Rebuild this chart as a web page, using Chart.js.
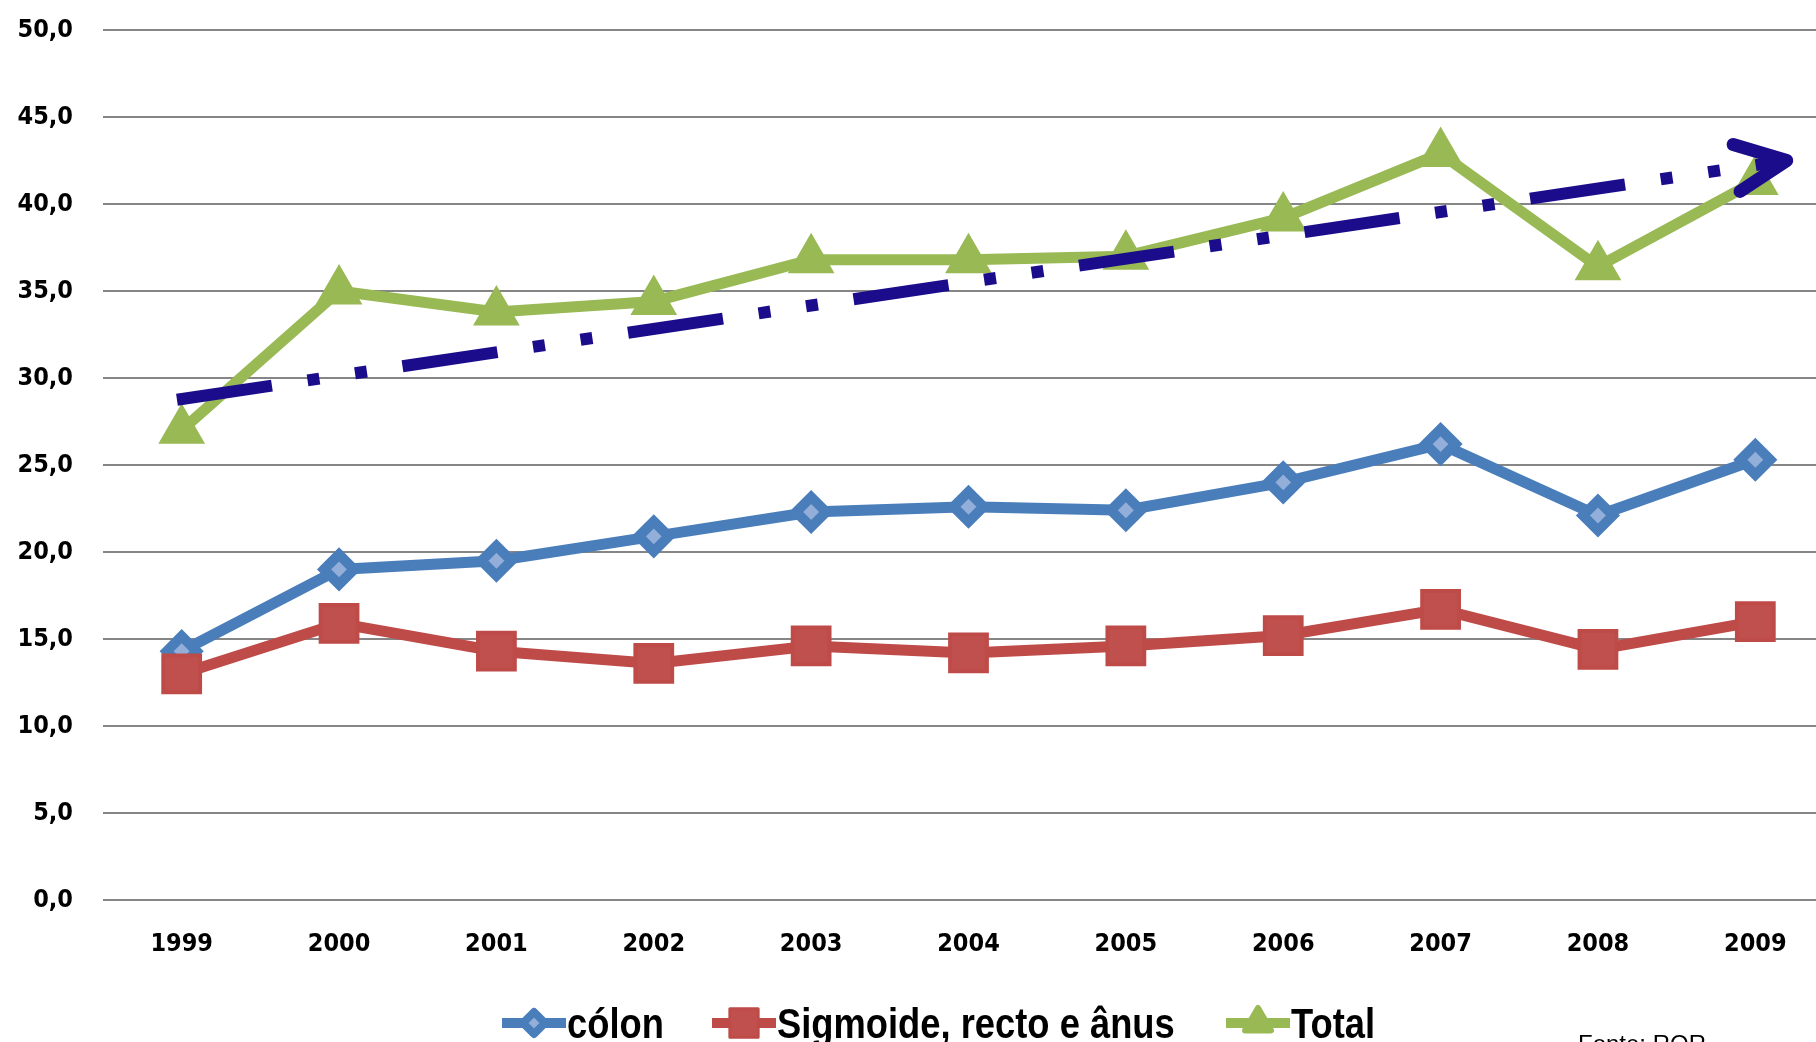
<!DOCTYPE html>
<html>
<head>
<meta charset="utf-8">
<script src="https://cdn.jsdelivr.net/npm/chart.js@4.4.1/dist/chart.umd.min.js"></script>
<style>
  html, body { margin: 0; padding: 0; background: #fff; overflow: hidden; }
  canvas { display: block; }
</style>
</head>
<body>
<!-- o gráfico original está cortado à direita: a tela é mais larga que a janela -->
<canvas id="chart" width="1864" height="1042"></canvas>
<script>
// dados
const years = ['1999', '2000', '2001', '2002', '2003', '2004', '2005', '2006', '2007', '2008', '2009'];
const colon = [14.3, 19.0, 19.5, 20.9, 22.3, 22.6, 22.4, 24.0, 26.2, 22.1, 25.3];
const sigmoide = [13.0, 15.9, 14.3, 13.6, 14.6, 14.2, 14.6, 15.2, 16.7, 14.4, 16.0];
const total = [27.0, 35.0, 33.8, 34.4, 36.8, 36.8, 37.0, 39.2, 42.9, 36.4, 41.3];
// seta de tendência (posição em índice de ano / valor)
const trendX = [-0.03, 10.2];
const trendY = [28.75, 42.5];
const yTicks = [0, 5, 10, 15, 20, 25, 30, 35, 40, 45, 50];

const BLUE = '#4a7ebb', RED = '#be4b48', GREEN = '#98b954', NAVY = '#1b0c8c';
const tickFont = { family: '"DejaVu Sans Condensed", "DejaVu Sans", Verdana, sans-serif', size: 25, weight: 'bold' };

const xy = (arr) => arr.map((v, i) => ({ x: i, y: v }));

// ponta da seta
const arrowHead = {
  id: 'arrowHead',
  afterDatasetsDraw(chart) {
    const meta = chart.getDatasetMeta(3);
    const [a, b] = meta.data;
    const ctx = chart.ctx;
    const ang = Math.atan2(a.y - b.y, a.x - b.x);
    const len = 56, spread = 25 * Math.PI / 180;
    ctx.save();
    ctx.strokeStyle = NAVY;
    ctx.lineWidth = 13;
    ctx.lineCap = 'round';
    ctx.lineJoin = 'round';
    ctx.beginPath();
    ctx.moveTo(b.x + Math.cos(ang - spread) * len, b.y + Math.sin(ang - spread) * len);
    ctx.lineTo(b.x, b.y);
    ctx.lineTo(b.x + Math.cos(ang + spread) * len, b.y + Math.sin(ang + spread) * len);
    ctx.stroke();
    ctx.restore();
  },
};

// legenda à moda do Excel (linha + marcador)
const LEGEND = [
  { label: 'cólon', color: BLUE, fill: '#93afd9', style: 'rectRot', r: 11, bw: 8, x: 502 },
  { label: 'Sigmoide, recto e ânus', color: RED, fill: '#c0504d', style: 'rect', r: 20, bw: 3, x: 712 },
  { label: 'Total', color: GREEN, fill: GREEN, style: 'triangle', r: 15, bw: 6, x: 1226 },
];
const excelLegend = {
  id: 'excelLegend',
  afterDraw(chart) {
    const ctx = chart.ctx;
    const y = 1023;
    ctx.save();
    LEGEND.forEach((it) => {
      ctx.strokeStyle = it.color;
      ctx.lineWidth = 10;
      ctx.lineCap = 'butt';
      ctx.beginPath();
      ctx.moveTo(it.x, y);
      ctx.lineTo(it.x + 64, y);
      ctx.stroke();
      ctx.fillStyle = it.fill;
      ctx.lineWidth = it.bw;
      ctx.lineJoin = 'round';
      Chart.helpers.drawPoint(ctx, { pointStyle: it.style, radius: it.r, rotation: 0, borderWidth: it.bw }, it.x + 32, y);
      // texto estreito (tipo Calibri)
      ctx.save();
      ctx.translate(it.x + 65, 1038);
      ctx.scale(0.845, 1);
      ctx.fillStyle = '#000';
      ctx.font = 'bold 43px "Liberation Sans", sans-serif';
      ctx.textBaseline = 'alphabetic';
      ctx.textAlign = 'left';
      ctx.fillText(it.label, 0, 0);
      ctx.restore();
    });
    ctx.fillStyle = '#000';
    ctx.font = '24px "Liberation Sans", sans-serif';
    ctx.fillText('Fonte: ROR', 1578, 1052);
    ctx.restore();
  },
};

new Chart(document.getElementById('chart'), {
  type: 'line',
  data: {
    datasets: [
      {
        label: 'cólon', data: xy(colon), order: 3,
        borderColor: BLUE, borderWidth: 11,
        pointStyle: 'rectRot', pointRadius: 15, pointBorderWidth: 10,
        pointBackgroundColor: '#93afd9', pointBorderColor: BLUE,
      },
      {
        label: 'Sigmoide, recto e ânus', data: xy(sigmoide), order: 2,
        borderColor: RED, borderWidth: 11,
        pointStyle: 'rect', pointRadius: 26, pointBorderWidth: 4,
        pointBackgroundColor: '#c0504d', pointBorderColor: RED,
      },
      {
        label: 'Total', data: xy(total), order: 1,
        borderColor: GREEN, borderWidth: 11,
        pointStyle: 'triangle', pointRadius: 19, pointBorderWidth: 8,
        pointBackgroundColor: GREEN, pointBorderColor: GREEN,
      },
      {
        label: 'tendência', data: trendX.map((x, i) => ({ x, y: trendY[i] })), order: 0,
        borderColor: NAVY, borderWidth: 12, borderDash: [96, 36, 12, 36, 12, 36], borderCapStyle: 'butt',
        pointRadius: 0,
      },
    ],
  },
  options: {
    animation: false,
    responsive: false,
    layout: { padding: { top: 18, right: 0, bottom: 0, left: 0 } },
    plugins: { legend: { display: false }, tooltip: { enabled: false } },
    scales: {
      x: {
        type: 'linear', min: -0.5, max: 10.5,
        afterBuildTicks: (s) => { s.ticks = years.map((_, i) => ({ value: i })); },
        afterFit: (s) => { s.height = 142; s.paddingLeft = 0; s.paddingRight = 0; },
        grid: { display: false }, border: { display: false },
        ticks: { color: '#000', font: tickFont, padding: 21, maxRotation: 0, callback: (v) => years[v] },
      },
      y: {
        min: 0, max: 50,
        afterBuildTicks: (s) => { s.ticks = yTicks.map((v) => ({ value: v })); },
        afterFit: (s) => { s.width = 103; s.paddingTop = 0; s.paddingBottom = 0; },
        grid: { color: '#868686', lineWidth: 2, drawTicks: false }, border: { display: false },
        ticks: { color: '#000', font: tickFont, padding: 30, callback: (v) => v.toFixed(1).replace('.', ',') },
      },
    },
  },
  plugins: [arrowHead, excelLegend],
});
</script>
</body>
</html>
